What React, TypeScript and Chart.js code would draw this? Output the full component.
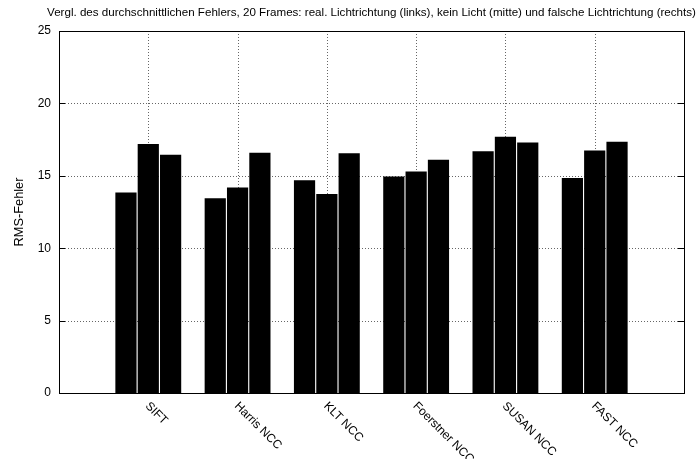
import { useEffect, useRef } from "react";
import { Chart, registerables } from "chart.js";

Chart.register(...registerables);

const chartTitle =
  "Vergl. des durchschnittlichen Fehlers, 20 Frames: real. Lichtrichtung (links), kein Licht (mitte) und falsche Lichtrichtung (rechts)";
const yAxisTitle = "RMS-Fehler";

const categories = ["SIFT", "Harris NCC", "KLT NCC", "Foerstner NCC", "SUSAN NCC", "FAST NCC"];

// RMS error per detector, three lighting conditions
const realLight = [13.85, 13.45, 14.7, 14.95, 16.7, 14.85];
const noLight = [17.2, 14.2, 13.75, 15.3, 17.7, 16.75];
const wrongLight = [16.45, 16.6, 16.55, 16.1, 17.3, 17.35];

const yTicks = [0, 5, 10, 15, 20, 25];

const FONT = '"Liberation Sans", Arial, Helvetica, sans-serif';

// one empty slot on each side of the detector groups
const slotLabels = ["", ...categories, ""];
const pad = (arr: number[]) => [null, ...arr, null];

const framePlugin = {
  id: "gnuplotFrame",
  beforeDatasetsDraw(chart: any) {
    const { ctx, scales } = chart;
    const x = scales.x;
    const y = scales.y;
    ctx.save();
    ctx.strokeStyle = "#666";
    ctx.lineWidth = 1;
    ctx.setLineDash([1, 2]);
    for (const v of yTicks) {
      if (v === yTicks[0] || v === yTicks[yTicks.length - 1]) continue;
      const py = Math.round(y.getPixelForValue(v)) + 0.5;
      ctx.beginPath();
      ctx.moveTo(x.left, py);
      ctx.lineTo(x.right, py);
      ctx.stroke();
    }
    categories.forEach((_, i) => {
      const px = Math.round(x.getPixelForValue(i + 1)) + 0.5;
      ctx.beginPath();
      ctx.moveTo(px, y.top);
      ctx.lineTo(px, y.bottom);
      ctx.stroke();
    });
    ctx.restore();
  },
  afterDatasetsDraw(chart: any) {
    const { ctx, scales } = chart;
    const x = scales.x;
    const y = scales.y;
    const L = Math.round(x.left);
    const R = Math.round(x.right);
    const T = Math.round(y.top);
    const B = Math.round(y.bottom);
    ctx.save();
    ctx.setLineDash([]);
    ctx.strokeStyle = "#000";
    ctx.lineWidth = 1;
    // frame
    ctx.strokeRect(L + 0.5, T + 0.5, R - L, B - T);
    // inward y ticks on both sides
    for (const v of yTicks) {
      const py = Math.round(y.getPixelForValue(v)) + 0.5;
      ctx.beginPath();
      ctx.moveTo(L, py);
      ctx.lineTo(L + 6, py);
      ctx.moveTo(R - 6, py);
      ctx.lineTo(R + 1, py);
      ctx.stroke();
    }
    // rotated category labels
    ctx.fillStyle = "#000";
    ctx.font = `12px ${FONT}`;
    ctx.textAlign = "left";
    ctx.textBaseline = "top";
    categories.forEach((c, i) => {
      const px = x.getPixelForValue(i + 1);
      ctx.save();
      ctx.translate(px + 3, B + 7);
      ctx.rotate(Math.PI / 4);
      ctx.fillText(c, 0, 0);
      ctx.restore();
    });
    // y-axis title
    ctx.save();
    ctx.font = `12.8px ${FONT}`;
    ctx.translate(19, (T + B) / 2);
    ctx.rotate(-Math.PI / 2);
    ctx.textAlign = "center";
    ctx.textBaseline = "middle";
    ctx.fillText(yAxisTitle, 0, 0);
    ctx.restore();
    // chart title, centred over the plot area
    ctx.font = `11.6px ${FONT}`;
    ctx.textAlign = "center";
    ctx.textBaseline = "middle";
    ctx.fillText(chartTitle, (L + R) / 2, 13);
    ctx.restore();
  },
};

export default function App() {
  const canvasRef = useRef<HTMLCanvasElement | null>(null);

  useEffect(() => {
    const canvas = canvasRef.current;
    if (!canvas) return;
    const mk = (label: string, data: number[]) => ({
      label,
      data: pad(data),
      backgroundColor: "#000",
      borderWidth: 0,
      barPercentage: 0.95,
      categoryPercentage: 0.75,
    });
    const chart = new Chart(canvas, {
      type: "bar",
      data: {
        labels: slotLabels,
        datasets: [
          mk("real. Lichtrichtung", realLight),
          mk("kein Licht", noLight),
          mk("falsche Lichtrichtung", wrongLight),
        ],
      },
      options: {
        animation: false,
        responsive: false,
        maintainAspectRatio: false,
        devicePixelRatio: 1,
        layout: { padding: { left: 0, top: 31, right: 13, bottom: 0 } },
        plugins: {
          legend: { display: false },
          title: { display: false },
          tooltip: { enabled: false },
        },
        scales: {
          x: {
            type: "category",
            offset: false,
            grid: { display: false, drawTicks: false },
            border: { display: false },
            ticks: { display: false },
            afterFit: (s: any) => {
              s.height = 66;
            },
          },
          y: {
            min: 0,
            max: 25,
            grid: { display: false, drawTicks: false },
            border: { display: false },
            ticks: {
              stepSize: 5,
              padding: 8,
              color: "#000",
              font: { family: FONT, size: 12 },
            },
            afterFit: (s: any) => {
              s.width = 59;
            },
          },
        },
      },
      plugins: [framePlugin],
    });
    return () => chart.destroy();
  }, []);

  return (
    <div style={{ position: "fixed", left: 0, top: 0, width: 697, height: 459, background: "#fff" }}>
      <canvas ref={canvasRef} width={697} height={459} style={{ display: "block", width: 697, height: 459 }} />
    </div>
  );
}
